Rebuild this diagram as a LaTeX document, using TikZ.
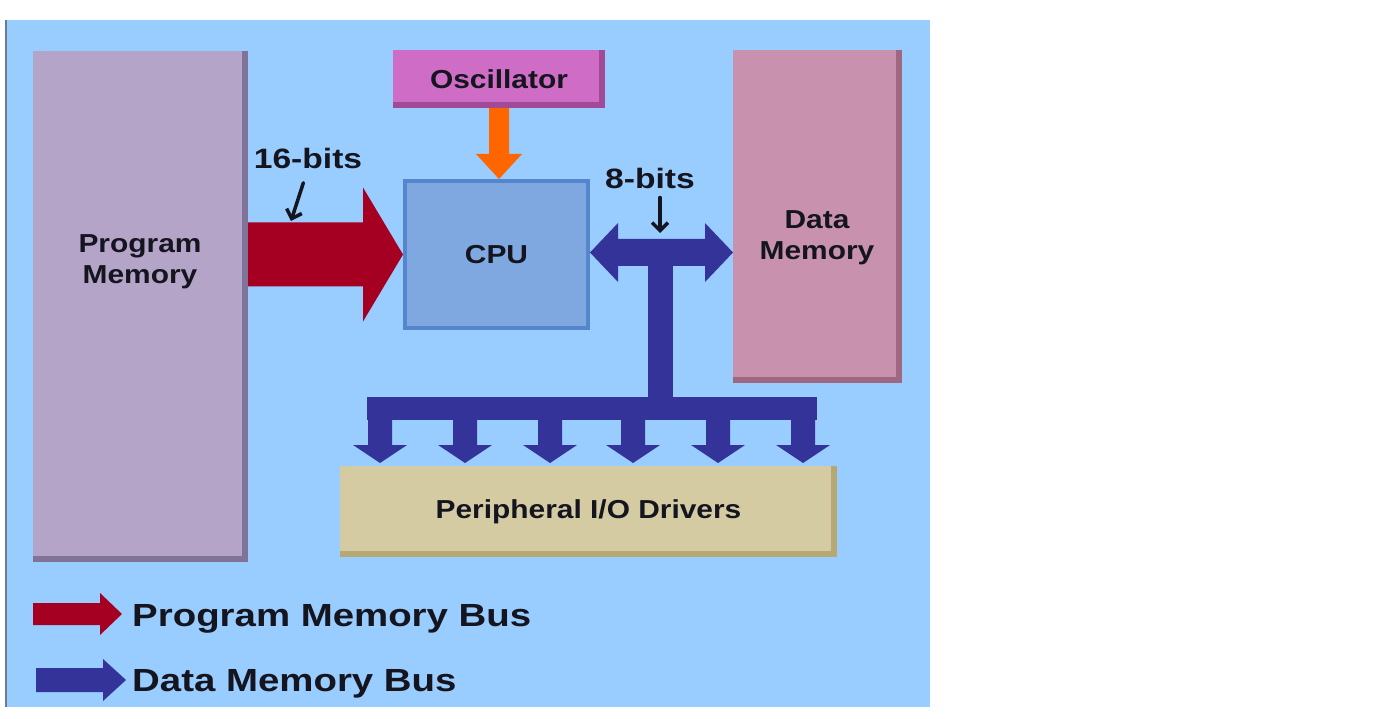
\documentclass[tikz,border=0pt]{standalone}
\usepackage{fontspec}
\setmainfont{Liberation Sans}
\usepackage{graphicx}
\usetikzlibrary{calc,arrows.meta}
\definecolor{panel}{HTML}{99CCFF}
\definecolor{panelline}{HTML}{6A7A90}
\definecolor{pmfill}{HTML}{B4A4C8}
\definecolor{pmedge}{HTML}{7F7398}
\definecolor{oscfill}{HTML}{CF6CC6}
\definecolor{oscedge}{HTML}{A04A98}
\definecolor{cpufill}{HTML}{80A8E0}
\definecolor{cpuedge}{HTML}{5585CC}
\definecolor{dmfill}{HTML}{C892AE}
\definecolor{dmedge}{HTML}{A06880}
\definecolor{perfill}{HTML}{D4CBA3}
\definecolor{peredge}{HTML}{B5A872}
\definecolor{busred}{HTML}{A50021}
\definecolor{busblue}{HTML}{333399}
\definecolor{oscarrow}{HTML}{FF6600}
\definecolor{ink}{HTML}{15151F}
\newcommand\wide[1]{\scalebox{1.15}[1]{#1}}
% right-pointing fat arrow: start, tip, half shaft, head length, half head, colour
\newcommand\RArrowShape[6]{\fill[#6] ($(#1)+(0,#3)$) -- ($(#2)+(-#4,#3)$) -- ($(#2)+(-#4,#5)$) -- (#2) -- ($(#2)+(-#4,-#5)$) -- ($(#2)+(-#4,-#3)$) -- ($(#1)+(0,-#3)$) -- cycle;}
% down-pointing fat arrow
\newcommand\DArrowShape[6]{\fill[#6] ($(#1)+(-#3,0)$) -- ($(#2)+(-#3,-#4)$) -- ($(#2)+(-#5,-#4)$) -- (#2) -- ($(#2)+(#5,-#4)$) -- ($(#2)+(#3,-#4)$) -- ($(#1)+(#3,0)$) -- cycle;}
\tikzset{
  blk/.style={rectangle, inner sep=0pt, outer sep=0pt, text=ink,
    font=\fontsize{26}{31}\selectfont\bfseries},
  bev/.style={path picture={
    \fill[#1] ([xshift=-6pt]path picture bounding box.south east) rectangle (path picture bounding box.north east);
    \fill[#1] (path picture bounding box.south west) rectangle ([yshift=6pt]path picture bounding box.south east);}},
  lbl/.style={inner sep=0pt, align=center, text=ink, xscale=1.15,
    font=\fontsize{26}{31}\selectfont\bfseries},
  bits/.style={inner sep=0pt, text=ink, xscale=1.2,
    font=\fontsize{28}{32}\selectfont\bfseries},
  legend/.style={inner sep=0pt, text=ink, xscale=1.2, anchor=base west,
    font=\fontsize{32}{36}\selectfont\bfseries},
  smallarrow/.style={draw=ink, line width=3.5pt, line cap=round,
    -{Straight Barb[length=8pt,width=16pt,line width=3.5pt]}}
}
\begin{document}
\begin{tikzpicture}[x=1pt,y=-1pt]
\useasboundingbox (0,0) rectangle (1381,719);
% panel
\fill[panel] (6,20) rectangle (930,707);
\draw[panelline, line width=2pt] (6,20) -- (6,707);

% boxes
\node[blk, fill=pmfill, bev=pmedge, minimum width=215pt, minimum height=511pt] (pm) at (140.5,306.5) {};
\node[lbl] (pmtext) at (140,262) {Program\\Memory};
\node[blk, fill=oscfill, bev=oscedge, minimum width=212pt, minimum height=58pt] (osc) at (499,79) {\wide{Oscillator}};
\node[blk, fill=cpufill, draw=cpuedge, line width=4pt, outer sep=2pt, minimum width=183pt, minimum height=147pt] (cpu) at (496.5,254.5) {\wide{CPU}};
\node[blk, fill=dmfill, bev=dmedge, minimum width=169pt, minimum height=333pt] (dm) at (817.5,216.5) {};
\node[lbl] (dmtext) at (817,238) {Data\\Memory};
\node[blk, fill=perfill, bev=peredge, minimum width=497pt, minimum height=91pt] (per) at (588.5,511.5) {\wide{Peripheral I/O Drivers}};

% program memory bus (red)
\coordinate (ra) at (pm.east |- cpu.west);
\RArrowShape{ra}{cpu.west}{32}{40}{67}{busred}

% oscillator arrow
\coordinate (oa) at (osc.south);
\coordinate (ob) at (osc.south |- cpu.north);
\DArrowShape{oa}{ob}{10}{25}{23}{oscarrow}

% data memory bus (blue)
\coordinate (dl) at ($(cpu.east)+(0,-2)$);
\coordinate (dr) at (dl -| dm.west);
\fill[busblue] (dl) -- ($(dl)+(28,-29.5)$) -- ($(dl)+(28,-13.5)$) -- ($(dr)+(-28,-13.5)$) -- ($(dr)+(-28,-29.5)$) -- (dr) -- ($(dr)+(-28,29.5)$) -- ($(dr)+(-28,13.5)$) -- ($(dl)+(28,13.5)$) -- ($(dl)+(28,29.5)$) -- cycle;
\coordinate (jn) at (660.5,252);
\coordinate (js) at (660.5,408.5);
\fill[busblue] ($(jn)+(-12.5,0)$) rectangle ($(js)+(12.5,11.5)$);
\coordinate (barl) at (367,397);
\coordinate (barr) at (817,420);
\fill[busblue] (barl) rectangle (barr);
\foreach \x [count=\i] in {380,465,550,633,718,803} {
  \coordinate (t\i) at (\x,408.5);
  \coordinate (u\i) at ($(t\i |- per.north)+(0,-3)$);
  \DArrowShape{t\i}{u\i}{12}{18}{27}{busblue}
}

% bit labels
\node[bits] (b16) at (308,158) {16-bits};
\coordinate (b16tip) at (291,221);
\draw[smallarrow, shorten <=15pt] (b16.south) -- (b16tip);
\node[bits] (b8) at (650,178) {8-bits};
\coordinate (b8tip) at (660,233);
\draw[smallarrow, shorten <=9pt] (b8tip |- b8.south) -- (b8tip);

% legend
\coordinate (lr1) at (33,614);
\coordinate (lr2) at (122,614);
\RArrowShape{lr1}{lr2}{11}{22}{21}{busred}
\node[legend] (lgp) at (132,626) {Program Memory Bus};
\coordinate (lb1) at (36,680);
\coordinate (lb2) at (126,680);
\RArrowShape{lb1}{lb2}{12}{23}{21}{busblue}
\node[legend] (lgd) at (132,691) {Data Memory Bus};
\end{tikzpicture}
\end{document}
